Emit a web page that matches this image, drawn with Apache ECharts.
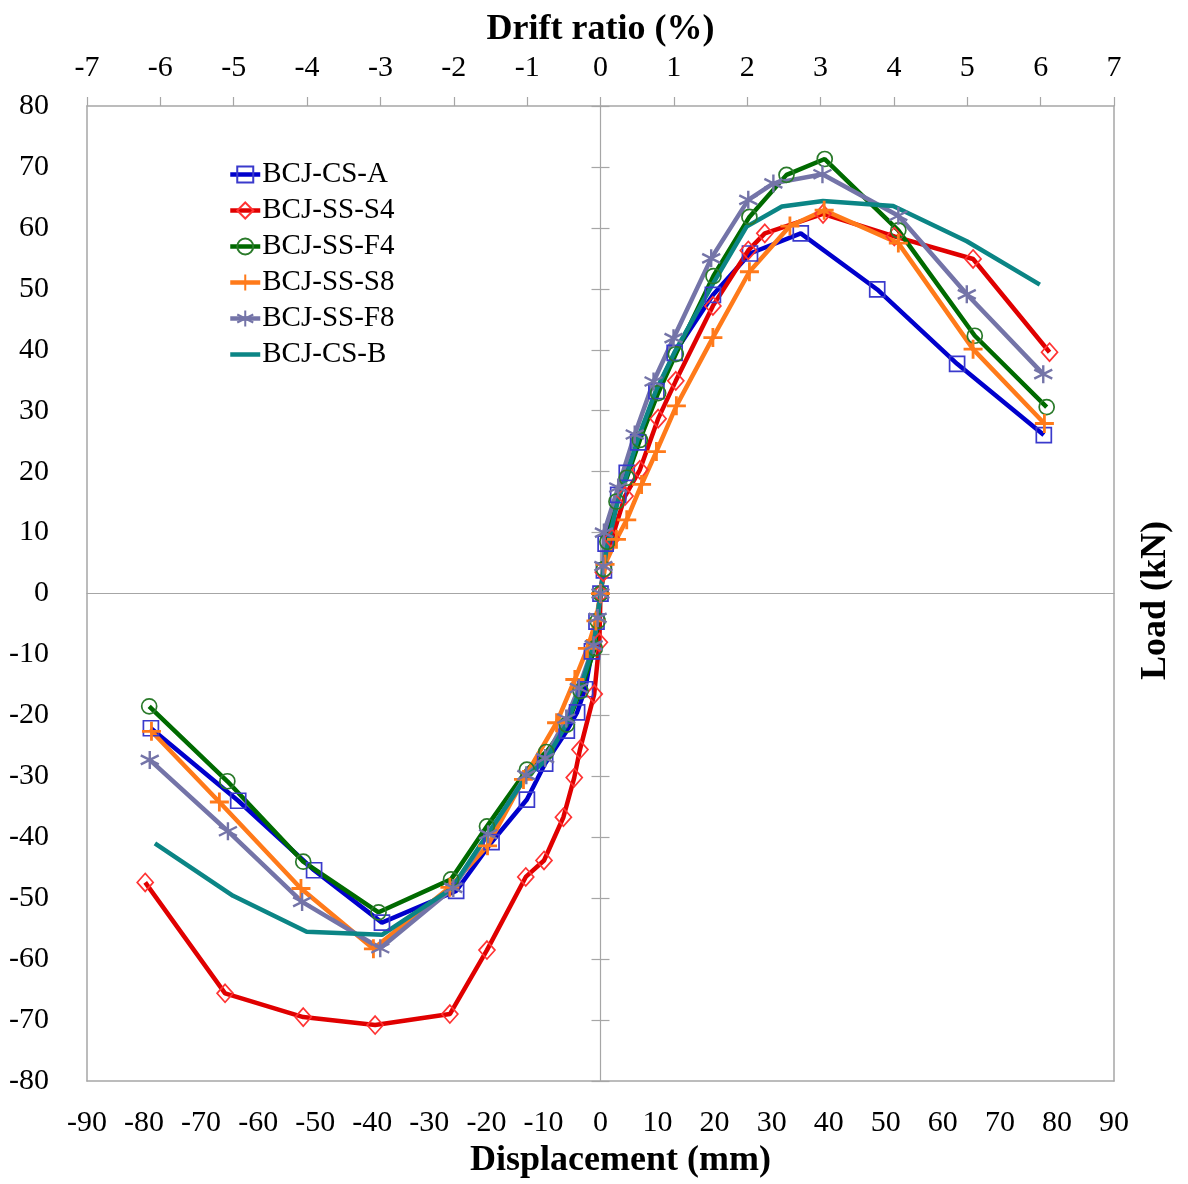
<!DOCTYPE html>
<html>
<head>
<meta charset="utf-8">
<script src="https://cdn.jsdelivr.net/npm/echarts@6/dist/echarts.min.js"></script>
<style>
html,body{margin:0;padding:0;background:#fff;}
#chart{width:1188px;height:1184px;}
</style>
</head>
<body>
<div id="chart"></div>
<script>
// ---- Data (displacement mm, load kN) ----
const seriesNames = ['BCJ-CS-A','BCJ-SS-S4','BCJ-SS-F4','BCJ-SS-S8','BCJ-SS-F8','BCJ-CS-B'];

const csA = [[-78.8,-22.1],[-63.5,-34],[-50.2,-45.4],[-38.3,-54],[-25.3,-48.8],[-19.1,-40.8],[-12.9,-33.8],[-9.7,-27.9],[-5.9,-22.5],[-4.1,-19.5],[-2.7,-15.7],[-1.5,-9.5],[-0.7,-4.6],[0,0],[0.6,3.8],[0.9,8.2],[3.1,16.2],[4.6,19.8],[6.6,24.8],[9.8,33.2],[13,39.5],[19.7,49],[26.2,55.8],[35.1,59.1],[48.5,49.9],[62.5,37.7],[77.7,26]];

const ssS4 = [[-79.8,-47.4],[-65.8,-65.6],[-52.1,-69.5],[-39.5,-70.8],[-26.4,-69],[-19.9,-58.5],[-13.1,-46.5],[-9.9,-43.8],[-6.5,-36.7],[-4.6,-30.2],[-3.6,-25.6],[-1.1,-16.5],[-0.2,-8],[0,0],[0.5,3.5],[2,9],[4.3,16],[6.9,20.3],[10.1,28.7],[13.2,34.9],[19.7,47.2],[25.9,56.3],[28.8,59.1],[39,62.3],[51.5,58.6],[65.3,54.9],[78.7,39.6]];

const ssF4 = [[-79.1,-18.5],[-65.4,-30.8],[-52.1,-44],[-38.9,-52.3],[-26.2,-46.9],[-19.9,-38.2],[-12.9,-28.9],[-9.5,-26],[-5.9,-21.5],[-3.5,-16],[-1,-9],[-0.5,-4.5],[0,0],[0.6,4],[1.2,8.5],[2.8,15.1],[4.6,19],[6.9,25.2],[10.1,32.9],[13.2,39.3],[19.8,52.1],[26.1,61.8],[32.6,68.7],[39.3,71.3],[52.2,59.6],[65.6,42.3],[78.2,30.6]];

const ssS8 = [[-78.7,-22.6],[-66.8,-34.2],[-52.5,-48.4],[-39.8,-58.3],[-26.4,-48.2],[-19.8,-41.4],[-13.5,-30.5],[-7.7,-21.2],[-4.5,-14.1],[-2.3,-9],[-0.8,-4.5],[0,0],[0.8,4.8],[2.8,8.9],[4.6,12.1],[7.2,17.9],[9.8,23.3],[13.3,30.8],[19.7,42],[26.1,52.8],[33.2,60.3],[39.2,62.9],[52.2,57.5],[65.3,40.1],[77.8,27.9]];

const ssF8 = [[-79,-27.3],[-65.3,-39],[-52.3,-50.6],[-38.6,-58.2],[-25.8,-48.3],[-19.7,-39.5],[-13,-29.8],[-9.7,-27],[-6,-20.5],[-3.8,-15.5],[-1.2,-8.5],[-0.5,-4],[0,0],[0.5,4.5],[0.6,10],[3.1,17.4],[6,26.1],[9.3,34.8],[12.8,41.9],[19.4,55],[25.9,64.6],[30.3,67.3],[38.9,68.8],[52.2,62],[64.2,49.1],[77.6,36]];

const csB = [[-78.1,-41],[-64.4,-49.6],[-51.5,-55.5],[-38.3,-56],[-26.1,-48.4],[-19.8,-39.5],[-13,-30],[-9.7,-27.5],[-6,-21.5],[-3.5,-15.5],[-1.2,-8.5],[0,0],[1,7],[3,15],[4.6,19.5],[6.6,25.5],[9.8,33.5],[13.2,40],[19.7,50.8],[25.6,60.2],[31.8,63.5],[39,64.4],[51.3,63.6],[64.2,57.8],[77,50.7]];

// Axis ranges / ticks
const dispMin = -90, dispMax = 90, dispStep = 10;
const driftMin = -7, driftMax = 7, driftStep = 1;
const loadMin = -80, loadMax = 80, loadStep = 10;

const serif = 'Liberation Serif';
const frameColor = '#a6a6a6';

const chart = echarts.init(document.getElementById('chart'), null, {renderer:'canvas'});

function lineSeries(name, data, lineColor, symbol, size, symColor, symWidth) {
  return {
    name: name,
    type: 'line',
    xAxisIndex: 0,
    yAxisIndex: 0,
    data: data,
    symbol: symbol,
    symbolSize: size,
    showSymbol: symbol !== 'none',
    lineStyle: {color: lineColor, width: 4.5},
    itemStyle: {color: 'none', borderColor: symColor, borderWidth: symWidth},
    color: lineColor,
    emphasis: {disabled: true},
    z: 3
  };
}

const plusPath = 'path://M0,10L20,10M10,0L10,20';
const starPath = 'path://M10,0L10,20M1.34,5L18.66,15M1.34,15L18.66,5';

const series = [
  lineSeries(seriesNames[0], csA, '#0000cc', 'rect', 15, '#3a3acc', 1.7),
  lineSeries(seriesNames[1], ssS4, '#e00000', 'diamond', [16,18], '#ff3333', 1.7),
  lineSeries(seriesNames[2], ssF4, '#006a00', 'circle', 15, '#2a7a2a', 1.7),
  lineSeries(seriesNames[3], ssS8, '#ff7a1a', plusPath, 19, '#ff7a1a', 2.8),
  lineSeries(seriesNames[4], ssF8, '#7474a8', starPath, 18, '#7474a8', 2.4),
  lineSeries(seriesNames[5], csB, '#0b8585', 'none', 0, '#0b8585', 0)
];

const labelStyle = {fontFamily: serif, fontSize: 30, color: '#000'};
const nameStyle = {fontFamily: serif, fontSize: 36, fontWeight: 'bold', color: '#000'};

const option = {
  backgroundColor: '#fff',
  animation: false,
  grid: {left: 87, right: 74, top: 106, bottom: 102, containLabel: false},
  legend: {
    data: seriesNames,
    orient: 'vertical',
    left: 228,
    top: 160,
    padding: 0,
    itemWidth: 30,
    itemHeight: 20,
    itemGap: 7,
    lineStyle: {width: 4.5},
    textStyle: {fontFamily: serif, fontSize: 29, color: '#000', lineHeight: 29, padding: [0,0,0,-3]},
    selectedMode: false
  },
  xAxis: [
    { // bottom displacement axis
      type: 'value', position: 'bottom', min: dispMin, max: dispMax, interval: dispStep,
      name: 'Displacement (mm)', nameLocation: 'middle', nameGap: 60,
      nameTextStyle: Object.assign({padding: [0,0,0,40]}, nameStyle),
      axisLine: {show: true, onZero: false, lineStyle: {color: frameColor, width: 1.5}},
      axisTick: {show: false},
      axisLabel: Object.assign({margin: 27}, labelStyle),
      splitLine: {show: false}
    },
    { // top drift ratio axis
      type: 'value', position: 'top', min: driftMin, max: driftMax, interval: driftStep,
      name: 'Drift ratio (%)', nameLocation: 'middle', nameGap: 56,
      nameTextStyle: nameStyle,
      axisLine: {show: true, onZero: false, lineStyle: {color: frameColor, width: 1.5}},
      axisTick: {show: true, inside: false, length: 9, lineStyle: {color: frameColor, width: 1.2}},
      axisLabel: Object.assign({margin: 23}, labelStyle),
      splitLine: {show: false}
    },
    { // zero line (horizontal)
      type: 'value', position: 'bottom', min: dispMin, max: dispMax, interval: dispStep,
      axisLine: {show: true, onZero: true, onZeroAxisIndex: 0, lineStyle: {color: frameColor, width: 1.2}},
      axisTick: {show: false},
      axisLabel: {show: false},
      splitLine: {show: false}
    }
  ],
  yAxis: [
    { // left load axis labels
      type: 'value', position: 'left', min: loadMin, max: loadMax, interval: loadStep,
      axisLine: {show: true, onZero: false, lineStyle: {color: frameColor, width: 1.5}},
      axisTick: {show: false},
      axisLabel: Object.assign({margin: 38}, labelStyle),
      splitLine: {show: false}
    },
    { // right frame + name
      type: 'value', position: 'right', min: loadMin, max: loadMax, interval: loadStep,
      name: 'Load (kN)', nameLocation: 'middle', nameGap: 24,
      nameTextStyle: Object.assign({padding: [0,14,0,0]}, nameStyle),
      axisLine: {show: true, onZero: false, lineStyle: {color: frameColor, width: 1.5}},
      axisTick: {show: false},
      axisLabel: {show: false},
      splitLine: {show: false}
    },
    { // vertical zero line, outward ticks
      type: 'value', position: 'left', min: loadMin, max: loadMax, interval: loadStep,
      axisLine: {show: true, onZero: true, onZeroAxisIndex: 0, lineStyle: {color: frameColor, width: 1.2}},
      axisTick: {show: true, inside: false, length: 9, lineStyle: {color: frameColor, width: 1.2}},
      axisLabel: {show: false},
      splitLine: {show: false}
    },
    { // vertical zero line, inward ticks
      type: 'value', position: 'left', min: loadMin, max: loadMax, interval: loadStep,
      axisLine: {show: false, onZero: true, onZeroAxisIndex: 0},
      axisTick: {show: true, inside: true, length: 9, lineStyle: {color: frameColor, width: 1.2}},
      axisLabel: {show: false},
      splitLine: {show: false}
    }
  ],
  series: series
};

chart.setOption(option);
</script>
</body>
</html>
